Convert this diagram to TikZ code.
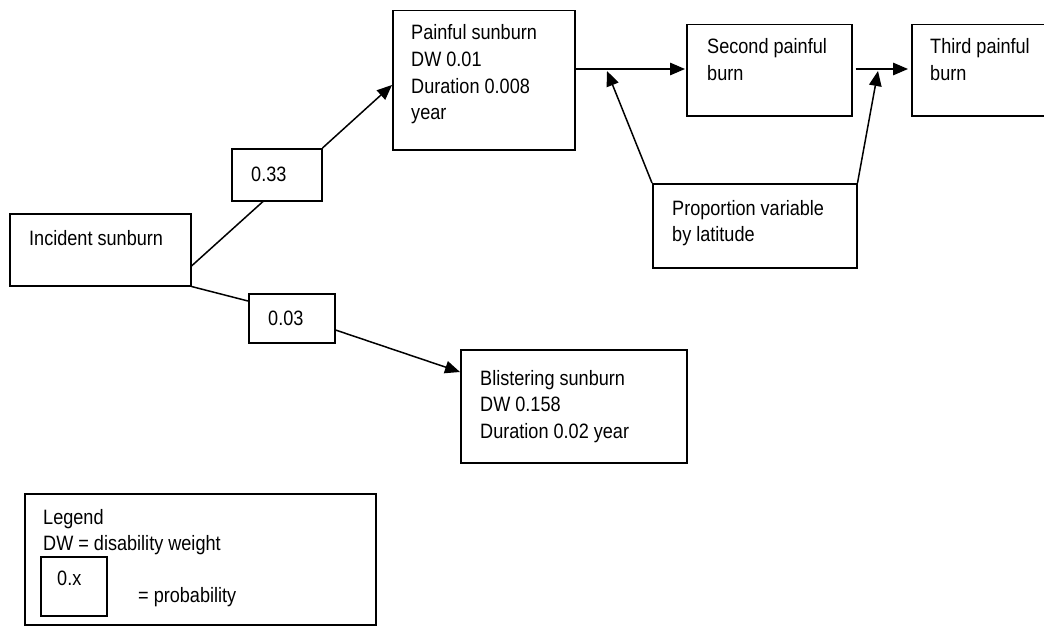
\documentclass[tikz,border=0pt]{standalone}
\usepackage{fontspec}
\setmainfont[FakeStretch=0.87]{Liberation Sans}
\usetikzlibrary{arrows.meta,calc}
\begin{document}
\begin{tikzpicture}[x=1pt,y=-1pt,
  box/.style={draw,line width=1.5pt,inner sep=0pt,anchor=north west},
  txt/.style={anchor=base west,inner sep=0pt,font=\fontsize{20.8}{26.5}\selectfont},
  conn/.style={line width=1.5pt},
  arr/.style={line width=1.5pt,-{Triangle[length=15pt,width=12.5pt]}}]
\useasboundingbox (0,0) rectangle (1044,626);
\clip (0,0) rectangle (1044,626);
% boxes
\node[box,minimum width=181pt,minimum height=72pt] (inc) at (9,213) {};
\node[box,minimum width=90pt,minimum height=52pt] (p33) at (231,148) {};
\node[box,minimum width=86pt,minimum height=49pt] (p03) at (248,293) {};
\node[box,minimum width=182pt,minimum height=139pt] (pain) at (392,10) {};
\node[box,minimum width=165pt,minimum height=91pt] (second) at (686,24) {};
\node[box,minimum width=140pt,minimum height=91pt] (third) at (911,24) {};
\node[box,minimum width=204pt,minimum height=84pt] (prop) at (652,183) {};
\node[box,minimum width=226pt,minimum height=113pt] (blis) at (460,349) {};
\node[box,minimum width=351pt,minimum height=131pt] (legend) at (24,493) {};
\node[box,minimum width=66pt,minimum height=59pt] (lbox) at (40,556) {};
% texts
\node[txt] (incT) at (29,245) {Incident sunburn};
\node[txt] (p33T) at (251,181) {0.33};
\node[txt] (p03T) at (268,325) {0.03};
\node[txt] (painT1) at (411,40) {Painful sunburn};
\node[txt] (painT2) at (411,66.5) {DW 0.01};
\node[txt] (painT3) at (411,93) {Duration 0.008};
\node[txt] (painT4) at (411,119.5) {year};
\node[txt] (secT1) at (707,54) {Second painful};
\node[txt] (secT2) at (707,80.5) {burn};
\node[txt] (thiT1) at (930,54) {Third painful};
\node[txt] (thiT2) at (930,80.5) {burn};
\node[txt] (propT1) at (672,215) {Proportion variable};
\node[txt] (propT2) at (672,241.5) {by latitude};
\node[txt] (blisT1) at (480,385) {Blistering sunburn};
\node[txt] (blisT2) at (480,411.5) {DW 0.158};
\node[txt] (blisT3) at (480,438) {Duration 0.02 year};
\node[txt] (legT1) at (43,524) {Legend};
\node[txt] (legT2) at (43,550.5) {DW = disability weight};
\node[txt] (lboxT) at (57,585) {0.x};
\node[txt] (legT3) at (138,602) {= probability};
% junction points on the horizontal arrows
\coordinate (j1) at (607,71);
\coordinate (j2) at (878,71);
% connectors
\draw[conn] ($(inc.north east)+(0,53)$) -- ($(p33.south west)+(32,0)$);
\draw[arr] (p33.north east) -- ($(pain.north west)+(0,75)$);
\draw[conn] (inc.south east) -- ($(p03.north west)+(0,8)$);
\draw[arr] ($(p03.north east)+(0,37)$) -- ($(blis.north west)+(0,23)$);
\draw[arr] ($(pain.north east)+(0,59)$) -- ($(second.north west)+(-1,45)$);
\draw[arr] ($(second.north east)+(3,45)$) -- ($(third.north west)+(-3,45)$);
\draw[arr] (prop.north west) -- (j1);
\draw[arr] (prop.north east) -- (j2);
\end{tikzpicture}
\end{document}
